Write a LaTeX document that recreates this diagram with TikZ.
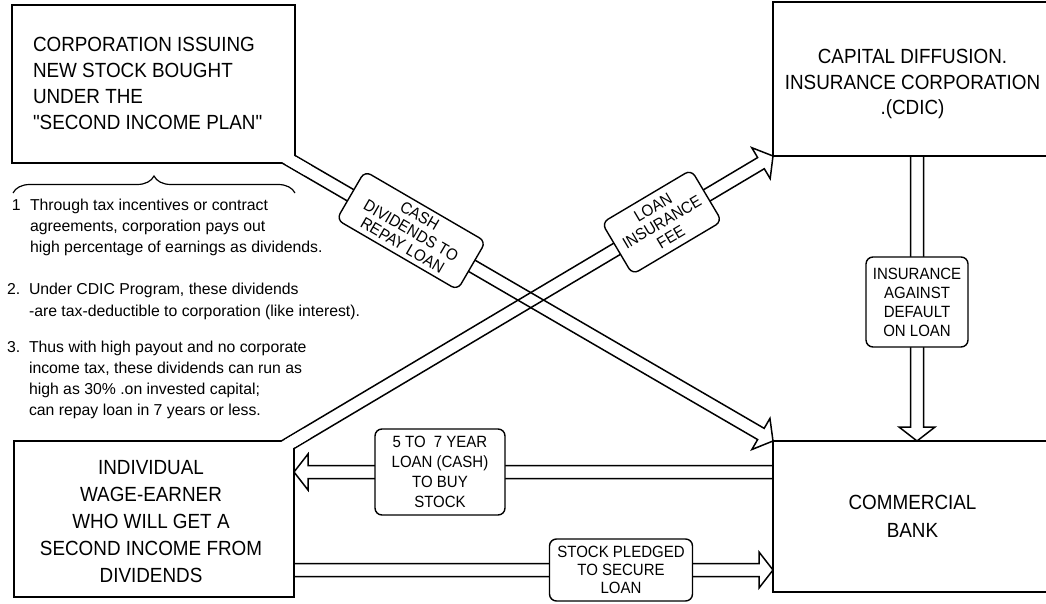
\documentclass[tikz,border=0pt]{standalone}
\usepackage{fontspec}
\setmainfont{Liberation Sans}
\newfontfamily\capsfont{Liberation Sans}[FakeStretch=0.92]
\usetikzlibrary{calc,decorations.pathreplacing}
\pgfdeclarelayer{background}
\pgfdeclarelayer{fore}
\pgfsetlayers{background,main,fore}

% hollow double-line arrow: #1 tail extension, #2 from, #3 to
\newcommand\hollowarr[3]{%
  \coordinate (ha) at ($(#2)!-#1!(#3)$);
  \coordinate (hb) at (#3);
  \coordinate (hh) at ($(#3)!14pt!(#2)$);
  \draw[arrline] ($(ha)!6.5pt!90:(hb)$) -- ($(hh)!6.5pt!-90:(ha)$) -- ($(hh)!18pt!-90:(ha)$) -- (hb)
     -- ($(hh)!18pt!90:(ha)$) -- ($(hh)!6.5pt!90:(ha)$) -- ($(ha)!6.5pt!-90:(hb)$);
}
% open a box corner where a band leaves it
\newcommand\erasetail[2]{%
  \coordinate (ea) at ($(#1)!-15pt!(#2)$);
  \coordinate (eb) at ($(#1)!15pt!(#2)$);
  \fill[white] ($(ea)!5.6pt!90:(eb)$) -- ($(eb)!5.6pt!-90:(ea)$) -- ($(eb)!5.6pt!90:(ea)$) -- ($(ea)!5.6pt!-90:(eb)$) -- cycle;
}

\begin{document}
\begin{tikzpicture}[x=1pt,y=1pt,
  box/.style={draw, line width=2pt, fill=white, inner sep=0pt, outer sep=0pt},
  boxtext/.style={inner sep=0pt, outer sep=0pt, align=center,
    font=\capsfont\fontsize{20.5}{26}\selectfont},
  lbl/.style={draw, line width=1.4pt, rounded corners=7pt, fill=white, inner sep=0pt, outer sep=0pt,
    align=center, font=\capsfont\fontsize{16.3}{19}\selectfont},
  arrline/.style={line width=1.5pt},
  note/.style={inner sep=0pt, outer sep=0pt, align=left, anchor=base west,
    font=\fontsize{15.8}{21}\selectfont}]
\useasboundingbox (0,0) rectangle (1046,603);
\clip (0,0) rectangle (1046,603);

% main boxes
\node[box, minimum width=283pt, minimum height=158pt] (corp) at (153.5,519) {};
\node[boxtext, align=left, anchor=west] (corptext) at ($(corp.west)+(21,0.5)$)
  {CORPORATION ISSUING\\NEW STOCK BOUGHT\\UNDER THE\\"SECOND INCOME PLAN"};
\node[box, minimum width=279pt, minimum height=154pt] (cdic) at (912.5,524) {};
\node[boxtext, font=\capsfont\fontsize{20.5}{25.5}\selectfont] (cdictext) at ($(cdic.center)+(0,-5)$)
  {CAPITAL DIFFUSION.\\INSURANCE CORPORATION\\.(CDIC)};
\node[box, minimum width=279pt, minimum height=151pt] (bank) at (912.5,86.5) {};
\node[boxtext, font=\capsfont\fontsize{20.5}{28}\selectfont] (banktext) at (bank.center)
  {COMMERCIAL\\BANK};
\node[box, minimum width=280pt, minimum height=156pt] (indiv) at (154,84) {};
\node[boxtext, font=\capsfont\fontsize{20.5}{26.8}\selectfont] (indivtext) at ($(indiv.center)+(-3,-2.5)$)
  {INDIVIDUAL\\WAGE-EARNER\\WHO WILL GET A\\SECOND INCOME FROM\\DIVIDENDS};

% labels
\node[lbl, minimum width=130pt, minimum height=86pt, font=\capsfont\fontsize{16.3}{20}\selectfont] (lab5) at (440,131)
  {5 TO\hspace{4pt} 7 YEAR\\LOAN (CASH)\\TO BUY\\STOCK};
\node[lbl, minimum width=143pt, minimum height=62pt, font=\capsfont\fontsize{16.3}{18}\selectfont] (labst) at (621,33)
  {STOCK PLEDGED\\TO SECURE\\LOAN};
\node[lbl, minimum width=102pt, minimum height=90pt] (labins) at (917,301)
  {INSURANCE\\AGAINST\\DEFAULT\\ON LOAN};
\node[lbl, minimum width=140pt, minimum height=56pt, rotate=-30.2, font=\capsfont\fontsize{16.3}{17}\selectfont] (labdiv)
  at ($(corp.south east)!0.243!(bank.north west)$) {CASH\\DIVIDENDS TO\\REPAY LOAN};
\node[lbl, minimum width=104pt, minimum height=60pt, rotate=30.7, font=\capsfont\fontsize{16.3}{17.5}\selectfont] (labfee)
  at ($(indiv.north east)!0.768!(cdic.south west)$) {LOAN\\INSURANCE\\FEE};

% end points of straight arrows
\coordinate (loanS) at (bank.west |- lab5.center);
\coordinate (loanE) at (indiv.east |- lab5.center);
\coordinate (stS) at (indiv.east |- labst.center);
\coordinate (stE) at (bank.west |- labst.center);
\coordinate (insS) at (cdic.south -| labins.center);
\coordinate (insE) at (bank.north -| labins.center);

\begin{pgfonlayer}{background}
  \hollowarr{15pt}{corp.south east}{bank.north west}
  \hollowarr{15pt}{indiv.north east}{cdic.south west}
  \hollowarr{0pt}{loanS}{loanE}
  \hollowarr{0pt}{stS}{stE}
  \hollowarr{0pt}{insS}{insE}
\end{pgfonlayer}
\begin{pgfonlayer}{fore}
  \erasetail{corp.south east}{bank.north west}
  \erasetail{indiv.north east}{cdic.south west}
\end{pgfonlayer}

% brace and notes (anchors are the baselines of the last lines)
\draw[line width=1.2pt, decorate, decoration={brace, amplitude=17pt}] (13,410) -- (295,410);
\node[note] (n1num) at (12,392) {1};
\node[note] (n1) at (30,350) {Through tax incentives or contract\\agreements, corporation pays out\\high percentage of earnings as dividends.};
\node[note] (n2num) at (7,308) {2.};
\node[note, font=\fontsize{15.8}{22}\selectfont] (n2) at (29,286) {Under CDIC Program, these dividends\\-are tax-deductible to corporation (like interest).};
\node[note] (n3num) at (7,251) {3.};
\node[note] (n3) at (29,188) {Thus with high payout and no corporate\\income tax, these dividends can run as\\high as 30\% .on invested capital;\\can repay loan in 7 years or less.};
\end{tikzpicture}
\end{document}
